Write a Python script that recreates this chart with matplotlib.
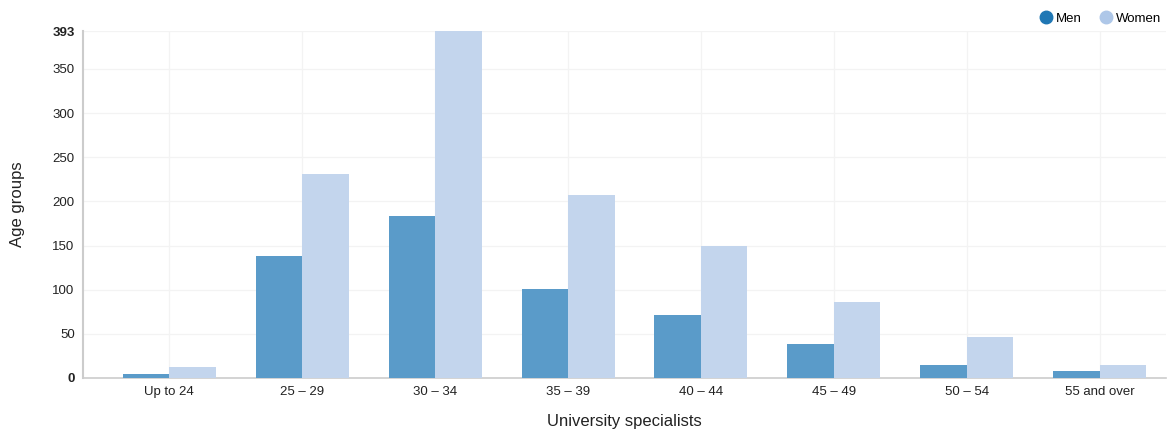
import matplotlib
matplotlib.use("Agg")
import matplotlib.pyplot as plt
import numpy as np
from matplotlib.lines import Line2D

plt.rcParams['font.family'] = ['Liberation Sans', 'DejaVu Sans']

categories = ["Up to 24", "25 – 29", "30 – 34", "35 – 39", "40 – 44", "45 – 49", "50 – 54", "55 and over"]
men = [5, 138, 183, 101, 71, 39, 15, 8]
women = [13, 231, 393, 207, 150, 86, 46, 15]
yticks = [0, 50, 100, 150, 200, 250, 300, 350, 393]
series_names = ["Men", "Women"]
colors = ["#5a9bc9", "#c3d5ed"]

fig = plt.figure(figsize=(11.76, 4.34), dpi=100)
ax = fig.add_axes([83/1176, 1 - 378/434, (1166-83)/1176, (378-31)/434])

x = np.arange(len(categories))
w = 0.35
ax.bar(x - w/2, men, width=w, color=colors[0], zorder=3)
ax.bar(x + w/2, women, width=w, color=colors[1], zorder=3)

ax.set_xlim(-0.65, len(categories) - 0.5)
ax.set_ylim(0, 393)
ax.set_xticks(x)
ax.set_xticklabels(categories, fontsize=9.5, color="#222222")
ax.set_yticks(yticks)
labels = ax.set_yticklabels([str(v) for v in yticks], fontsize=9.5, color="#222222")
labels[0].set_fontweight("bold")
labels[-1].set_fontweight("bold")
ax.tick_params(axis="both", length=0, pad=6)

ax.grid(True, color="#f3f3f3", linewidth=0.9, zorder=0)
for s in ["top", "right"]:
    ax.spines[s].set_visible(False)
ax.spines["left"].set_color("#cccccc")
ax.spines["left"].set_linewidth(1.5)
ax.spines["bottom"].set_color("#cccccc")
ax.spines["bottom"].set_linewidth(1.2)

ax.set_xlabel("University specialists", fontsize=12, color="#222222", labelpad=11)
ax.set_ylabel("Age groups", fontsize=12, color="#222222", labelpad=20)

handles = [Line2D([0], [0], marker="o", linestyle="", markersize=9, color=c) for c in ["#1f77b4", "#aec7e8"]]
fig.legend(handles, series_names, loc="upper right", bbox_to_anchor=(0.995, 0.993), ncol=2, frameon=False,
           fontsize=9.5, handlelength=0.8, handletextpad=0.35, columnspacing=1.4, borderaxespad=0.3)

fig.savefig("out.png", dpi=100)
